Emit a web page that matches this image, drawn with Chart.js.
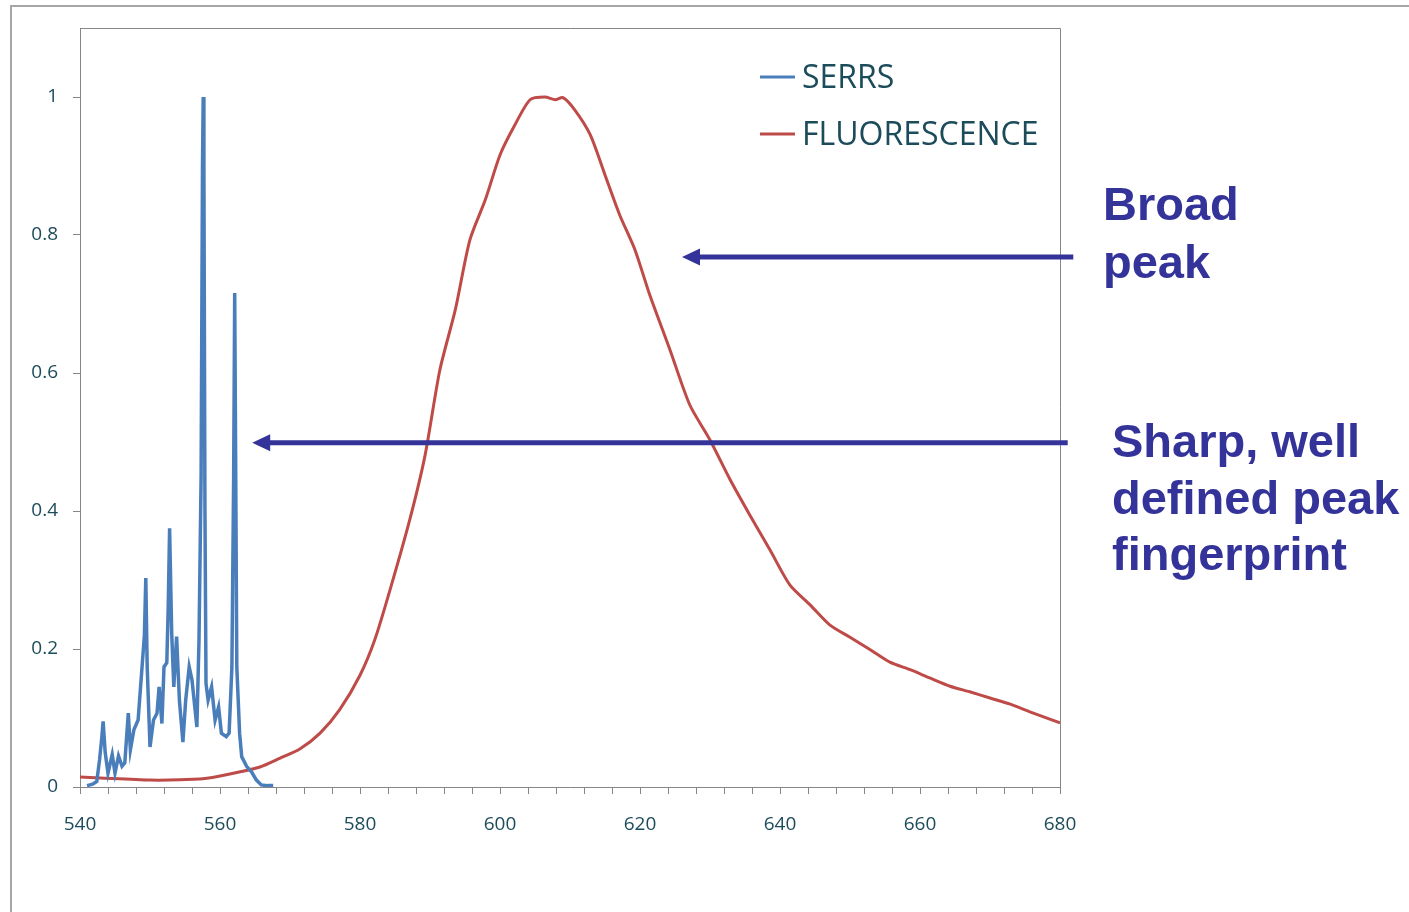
<!DOCTYPE html>
<html>
<head>
<meta charset="utf-8">
<script src="https://cdn.jsdelivr.net/npm/chart.js@4"></script>
<style>
body{
    margin:0;
    background:#ffffff;
}
.wrap{
    position:relative;
    width:1409px;
    height:912px;
}
.frame{
    position:absolute;
    left:10px;
    top:5px;
    right:0;
    bottom:0;
    border-top:2px solid #a6a6a6;
    border-left:2px solid #a6a6a6;
    pointer-events:none;
}
</style>
</head>
<body>
<div class="wrap">
    <canvas id="spectrumChart" width="1409" height="912"></canvas>
    <div class="frame"></div>
</div>

<script>

// wavelength (nm) and normalised intensity

const serrsWl = [
    541.0, 541.8, 542.4, 542.8, 543.1, 543.3, 543.6, 544.0, 544.6, 545.0,
    545.5, 546.0, 546.4, 546.9, 547.2, 547.7, 548.3, 548.8, 549.2, 549.4,
    549.6, 550.0, 550.5, 551.0, 551.3, 551.7, 552.0, 552.4, 552.6, 552.8,
    553.1, 553.4, 553.8, 554.2, 554.7, 555.1, 555.6, 556.0, 556.7, 557.0,
    557.3, 557.5, 557.6, 557.7, 557.85, 558.0, 558.3, 558.8, 559.3, 559.8,
    560.2, 560.9, 561.3, 561.7, 561.95, 562.1, 562.25, 562.4, 562.8, 563.1,
    563.8, 564.5, 565.2, 565.9, 566.8, 567.6
];

const serrsVal = [
    0.002, 0.004, 0.008, 0.04, 0.07, 0.095, 0.05, 0.02, 0.047, 0.02,
    0.045, 0.03, 0.035, 0.107, 0.054, 0.083, 0.097, 0.165, 0.22, 0.303,
    0.174, 0.058, 0.097, 0.107, 0.145, 0.092, 0.174, 0.18, 0.26, 0.375,
    0.223, 0.145, 0.218, 0.126, 0.065, 0.126, 0.174, 0.155, 0.087, 0.213,
    0.45, 0.9, 1.0, 0.9, 0.4, 0.15, 0.126, 0.145, 0.097, 0.116,
    0.078, 0.073, 0.078, 0.174, 0.45, 0.716, 0.45, 0.174, 0.078, 0.044,
    0.03, 0.022, 0.01, 0.003, 0.002, 0.002
];

const fluorWl = [
    540, 542.9, 550, 557.1, 560, 562.9, 565.7, 568.6, 571.4, 574.3,
    577.1, 580, 582.1, 584.3, 587.1, 589.3, 591.4, 593.6, 595.7, 597.9,
    600, 602.1, 604.3, 606.4, 607.9, 609, 610.7, 612.9, 615, 617.1,
    619.3, 621.4, 624.3, 627.1, 630, 632.9, 635.7, 638.6, 641.4, 644.3,
    647.1, 650, 652.9, 655.7, 658.6, 661.4, 664.3, 667.1, 670, 672.9,
    675.7, 680
];

const fluorVal = [
    0.0145, 0.013, 0.010, 0.0116, 0.016, 0.022, 0.029, 0.042, 0.055, 0.078,
    0.112, 0.162, 0.213, 0.286, 0.387, 0.481, 0.604, 0.691, 0.793, 0.851,
    0.916, 0.959, 0.996, 1.0, 0.996, 0.999, 0.981, 0.945, 0.887, 0.829,
    0.778, 0.713, 0.633, 0.554, 0.503, 0.445, 0.394, 0.343, 0.293, 0.264,
    0.235, 0.217, 0.199, 0.181, 0.170, 0.158, 0.146, 0.138, 0.129, 0.120,
    0.109, 0.093
];

const seriesLabels = ["SERRS", "FLUORESCENCE"];
const seriesColors = ["#4a7ebb", "#be4b48"];

// annotation arrows: tip (wavelength, value) and tail wavelength
const arrowTips = [[626.0, 0.768], [564.6, 0.499]];
const arrowTails = [681.9, 681.1];

const noteLines = [
    ["Broad", "peak"],
    ["Sharp, well", "defined peak", "fingerprint"]
];

const tickColor = "#1c4b5a";
const axisColor = "#868686";
const noteColor = "#333399";


function toPoints(xs, ys){

    return xs.map((x, i) => ({ x: x, y: ys[i] }));

}


const frameAndLegend = {

    id: "frameAndLegend",

    afterDatasetsDraw(chart){

        const ctx = chart.ctx;
        const area = chart.chartArea;

        ctx.save();

        // plot area outline (top and right side)
        ctx.strokeStyle = axisColor;
        ctx.lineWidth = 1;
        ctx.beginPath();
        ctx.moveTo(area.left, area.top + 0.5);
        ctx.lineTo(area.right + 0.5, area.top + 0.5);
        ctx.lineTo(area.right + 0.5, area.bottom);
        ctx.stroke();

        // legend inside the plot
        ctx.font = "32px 'Open Sans'";
        ctx.textBaseline = "middle";
        ctx.textAlign = "left";

        seriesLabels.forEach((label, i) => {

            const y = area.top + 50 + i * 57;

            ctx.strokeStyle = seriesColors[i];
            ctx.lineWidth = 3;
            ctx.beginPath();
            ctx.moveTo(area.right - 300, y - 1);
            ctx.lineTo(area.right - 265, y - 1);
            ctx.stroke();

            ctx.fillStyle = tickColor;
            ctx.fillText(label, area.right - 258, y + 1);

        });

        ctx.restore();

    },

    afterDraw(chart){

        const ctx = chart.ctx;
        const xs = chart.scales.x;
        const ys = chart.scales.y;

        ctx.save();

        ctx.strokeStyle = noteColor;
        ctx.fillStyle = noteColor;
        ctx.lineWidth = 5;

        arrowTips.forEach((tip, i) => {

            const tx = xs.getPixelForValue(tip[0]);
            const ty = ys.getPixelForValue(tip[1]);
            const ex = xs.getPixelForValue(arrowTails[i]);

            ctx.beginPath();
            ctx.moveTo(ex, ty);
            ctx.lineTo(tx + 14, ty);
            ctx.stroke();

            ctx.beginPath();
            ctx.moveTo(tx, ty);
            ctx.lineTo(tx + 18, ty - 8.5);
            ctx.lineTo(tx + 18, ty + 8.5);
            ctx.closePath();
            ctx.fill();

        });

        ctx.font = "bold 47px 'Liberation Sans'";
        ctx.textAlign = "left";
        ctx.textBaseline = "alphabetic";

        const area = chart.chartArea;

        noteLines[0].forEach((line, j) => {
            ctx.fillText(line, area.right + 43, 220 + j * 58);
        });

        noteLines[1].forEach((line, j) => {
            ctx.fillText(line, area.right + 52, 457 + j * 56.5);
        });

        ctx.restore();

    }

};


const ctx = document
    .getElementById("spectrumChart")
    .getContext("2d");

const spectrumChart = new Chart(ctx, {

    type: "line",

    data: {

        datasets: [

            {
                label: seriesLabels[0],
                data: toPoints(serrsWl, serrsVal),
                borderColor: seriesColors[0],
                borderWidth: 3.5,
                pointRadius: 0,
                tension: 0,
                fill: false
            },

            {
                label: seriesLabels[1],
                data: toPoints(fluorWl, fluorVal),
                borderColor: seriesColors[1],
                borderWidth: 3,
                pointRadius: 0,
                tension: 0.25,
                fill: false
            }

        ]

    },

    options: {

        responsive: false,

        animation: false,

        devicePixelRatio: 1,

        layout: {
            padding: { left: 0, top: 28, right: 349, bottom: 0 }
        },

        plugins: {
            legend: { display: false },
            tooltip: { enabled: false }
        },

        scales: {

            x: {
                type: "linear",
                min: 540,
                max: 680,
                afterFit(scale){
                    scale.height = 125;
                },
                ticks: {
                    stepSize: 4,
                    autoSkip: false,
                    maxRotation: 0,
                    padding: 19,
                    color: tickColor,
                    font: { family: "Open Sans", size: 19 },
                    callback(value){
                        return value % 20 === 0 ? String(value) : "";
                    }
                },
                grid: {
                    drawOnChartArea: false,
                    drawTicks: true,
                    tickLength: 7,
                    tickColor: axisColor
                },
                border: {
                    display: true,
                    color: axisColor,
                    width: 1
                }
            },

            y: {
                min: 0,
                max: 1.1,
                afterFit(scale){
                    scale.width = 80;
                },
                ticks: {
                    stepSize: 0.2,
                    padding: 15,
                    color: tickColor,
                    font: { family: "Open Sans", size: 19 },
                    callback(value){
                        if(value > 1.0001){
                            return null;
                        }
                        return String(parseFloat(value.toFixed(1)));
                    }
                },
                grid: {
                    drawOnChartArea: false,
                    drawTicks: true,
                    tickLength: 7,
                    tickColor: axisColor
                },
                border: {
                    display: true,
                    color: axisColor,
                    width: 1
                }
            }

        }

    },

    plugins: [frameAndLegend]

});

</script>
</body>
</html>
